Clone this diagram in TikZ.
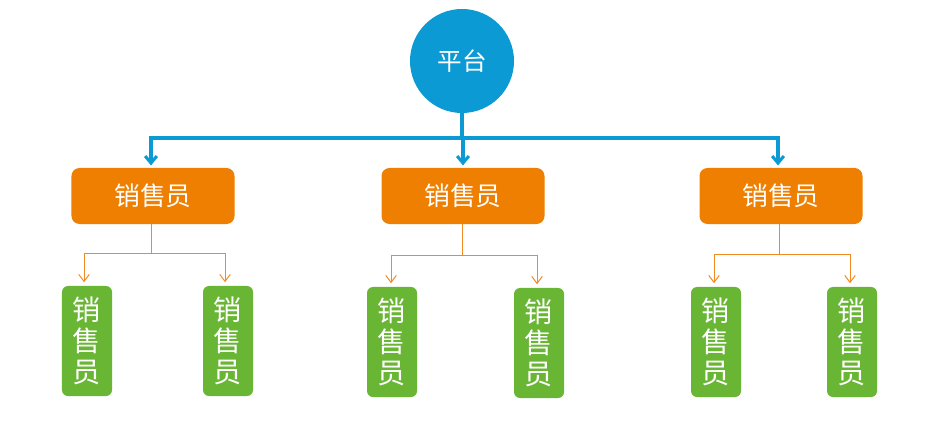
\documentclass[tikz,border=0pt]{standalone}
\usepackage{fontspec}
\newfontfamily\cjk{Noto Sans CJK SC}
\usetikzlibrary{arrows.meta,positioning}

\definecolor{platblue}{HTML}{0C9AD5}
\definecolor{salesorange}{HTML}{EE7F00}
\definecolor{linkorange}{HTML}{F08A24}
\definecolor{leafgreen}{HTML}{69B534}

\begin{document}
\begin{tikzpicture}[x=0.03cm,y=-0.03cm,
    plat/.style={circle,fill=platblue,minimum size=3.12cm,inner sep=0pt,
      text=white,font=\cjk\fontsize{21pt}{24pt}\selectfont},
    salesbox/.style={rounded corners=0.24cm,fill=salesorange,minimum width=4.89cm,
      minimum height=1.68cm,inner sep=0pt,text=white,font=\cjk\fontsize{22pt}{24pt}\selectfont},
    leafbox/.style={rounded corners=0.18cm,fill=leafgreen,minimum width=1.5cm,
      minimum height=3.3cm,inner sep=0pt,align=center,text=white,
      font=\cjk\fontsize{24pt}{26.5pt}\selectfont},
    busline/.style={draw=platblue,line width=2.6pt},
    buslink/.style={busline,-{Straight Barb[length=6pt,width=10pt]},shorten >=2pt},
    leaflink/.style={draw=linkorange,line width=0.85pt,
      -{Straight Barb[length=6pt,width=9pt]},shorten >=3pt}]
  \useasboundingbox (0,0) rectangle (932,429);

  % platform
  \node[plat] (pt) at (462,61) {平台};
  \coordinate (bus) at (462,138);
  \draw[busline,line width=3.4pt] (pt.south) -- (bus);

  % sales level
  \node[salesbox] (s1) at (153,196) {销售员};
  \node[salesbox] (s2) at (463,196) {销售员};
  \node[salesbox] (s3) at (781,196) {销售员};
  \draw[buslink] (bus) -| ([xshift=-0.06cm]s1.north);
  \draw[buslink] (bus) -| (s2.north);
  \draw[buslink] (bus) -| ([xshift=-0.09cm]s3.north);

  % leaves
  \node[leafbox] (l1) at (87,341) {销\\售\\员};
  \node[leafbox] (l2) at (228,341) {销\\售\\员};
  \node[leafbox] (l3) at (392,342) {销\\售\\员};
  \node[leafbox] (l4) at (539,343) {销\\售\\员};
  \node[leafbox] (l5) at (716,342) {销\\售\\员};
  \node[leafbox] (l6) at (852,342) {销\\售\\员};

  \coordinate (j1) at (151,253);
  \coordinate (j2) at (462,255);
  \coordinate (j3) at (779,254);
  \draw[linkorange,line width=0.85pt] (s1.south -| j1) -- (j1);
  \draw[linkorange,line width=0.85pt] (s2.south -| j2) -- (j2);
  \draw[linkorange,line width=0.85pt] (s3.south -| j3) -- (j3);
  \draw[leaflink] (j1) -| ([xshift=-0.09cm]l1.north);
  \draw[leaflink] (j1) -| ([xshift=-0.09cm]l2.north);
  \draw[leaflink] (j2) -| ([xshift=-0.03cm]l3.north);
  \draw[leaflink] (j2) -| ([xshift=-0.06cm]l4.north);
  \draw[leaflink] (j3) -| ([xshift=-0.06cm]l5.north);
  \draw[leaflink] (j3) -| ([xshift=-0.06cm]l6.north);
\end{tikzpicture}
\end{document}
